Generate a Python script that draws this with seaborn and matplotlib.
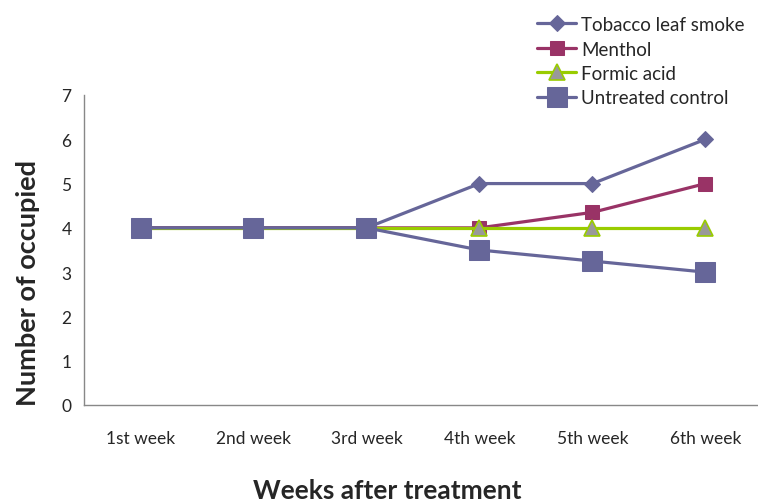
import matplotlib
matplotlib.use("Agg")
import matplotlib.pyplot as plt
import seaborn as sns
import pandas as pd
from matplotlib.ticker import FixedLocator, NullFormatter, FixedFormatter

weeks = ["1st week", "2nd week", "3rd week", "4th week", "5th week", "6th week"]
tobacco = [4, 4, 4, 5, 5, 6]
menthol = [4, 4, 4, 4, 4.35, 5]
formic = [4, 4, 4, 4, 4, 4]
control = [4, 4, 4, 3.5, 3.25, 3.0]

series = [
    ("Tobacco leaf smoke", tobacco, dict(color="#666699", marker="D", markersize=8,
                                          markerfacecolor="#666699", markeredgecolor="#666699")),
    ("Menthol", menthol, dict(color="#993366", marker="s", markersize=9.5,
                               markerfacecolor="#993366", markeredgecolor="#993366")),
    ("Formic acid", formic, dict(color="#99CC00", marker="^", markersize=11,
                                  markerfacecolor="#999999", markeredgecolor="#99CC00",
                                  markeredgewidth=1.2)),
    ("Untreated control", control, dict(color="#666699", marker="s", markersize=15,
                                         markerfacecolor="#666699", markeredgecolor="#666699")),
]

sns.set_style("white")
plt.rcParams["font.family"] = ["Lato", "DejaVu Sans"]

fig = plt.figure(figsize=(7.58, 5.02), dpi=100)
ax = fig.add_axes([84 / 758, 1 - 406 / 502, 678 / 758, 310 / 502])

for name, vals, style in series:
    df = pd.DataFrame({"x": range(len(weeks)), "y": vals})
    sns.lineplot(data=df, x="x", y="y", ax=ax, label=name, linewidth=2.3, **style)

ax.set_xlim(-0.5, len(weeks) - 0.5)
ax.set_ylim(0, 7)
ax.set_yticks(range(0, 8))

# category boundaries carry the tick marks, labels sit at the category centres
ax.xaxis.set_major_locator(FixedLocator([i - 0.5 for i in range(len(weeks) + 1)]))
ax.xaxis.set_major_formatter(NullFormatter())
ax.xaxis.set_minor_locator(FixedLocator(list(range(len(weeks)))))
ax.xaxis.set_minor_formatter(FixedFormatter(weeks))
ax.tick_params(axis="x", which="major", length=5, width=1, color="#888888", direction="out")
ax.tick_params(axis="x", which="minor", length=0, labelsize=12.5, pad=18)
ax.tick_params(axis="y", length=5, width=1, color="#888888", direction="out", labelsize=12.5, pad=4)

for side in ("top", "right"):
    ax.spines[side].set_visible(False)
for side in ("left", "bottom"):
    ax.spines[side].set_color("#888888")
    ax.spines[side].set_linewidth(1)

ax.set_xlabel("Weeks after treatment", fontsize=19, fontweight="bold")
ax.xaxis.set_label_coords((387 - 84) / 678, (406 - 479) / 310)
ax.set_ylabel("Number of occupied", fontsize=19.5, fontweight="bold")
ax.yaxis.set_label_coords((40 - 84) / 678, (406 - 283) / 310)

leg = ax.legend(loc="upper left", bbox_to_anchor=(537 / 758, 1 - 17 / 502),
                bbox_transform=fig.transFigure, frameon=False, fontsize=13.5,
                handlelength=2.1, handletextpad=0.25, labelspacing=0.4,
                borderaxespad=0, borderpad=0)

fig.savefig("out.png", dpi=100)
